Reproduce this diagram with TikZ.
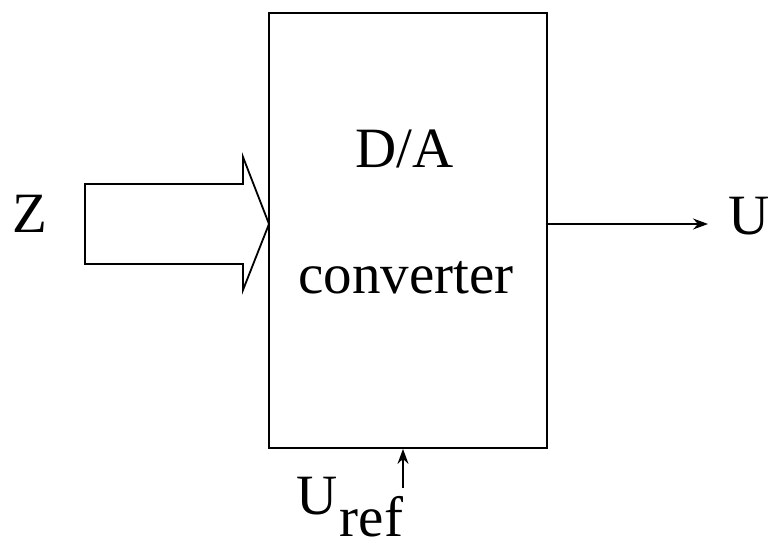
\documentclass[tikz,border=0pt]{standalone}
\usepackage{fontspec}
\setmainfont{Liberation Serif}
\usetikzlibrary{arrows.meta}
\begin{document}
\begin{tikzpicture}[x=1pt,y=-1pt,line width=1.8pt,
  lbl/.style={inner sep=0pt,font=\fontsize{57}{62}\selectfont},
  conn/.style={-{Stealth[length=15pt,width=11pt,inset=5pt]}}]
\useasboundingbox (0,0) rectangle (771,548);
\node[draw,minimum width=278pt,minimum height=435pt,inner sep=0pt,line width=1.8pt] (box) at (408,230.5) {};
\node[lbl,anchor=base] (da) at (404.5,168) {D/A};
\node[lbl,anchor=base] (conv) at (406,293) {converter};
\node[lbl,anchor=base] (z) at (30,233) {Z};
\node[lbl,anchor=base] (u) at (749,235) {U};
\node[lbl,anchor=base west] (uref) at (296,514) {U};
\node[lbl,anchor=base west] (refsub) at (uref.base east |- 0,536) {ref};
\coordinate (tip) at (269,224);
\draw[line join=miter] (tip) -- (243,157) -- (243,184) -- (85,184) -- (85,264) -- (243,264) -- (243,290) -- cycle;
\coordinate (uend) at (708,224);
\draw[conn] (box.east |- tip) -- (uend);
\coordinate (rstart) at (403,488);
\draw[conn] (rstart) -- (rstart |- box.south);
\end{tikzpicture}
\end{document}
